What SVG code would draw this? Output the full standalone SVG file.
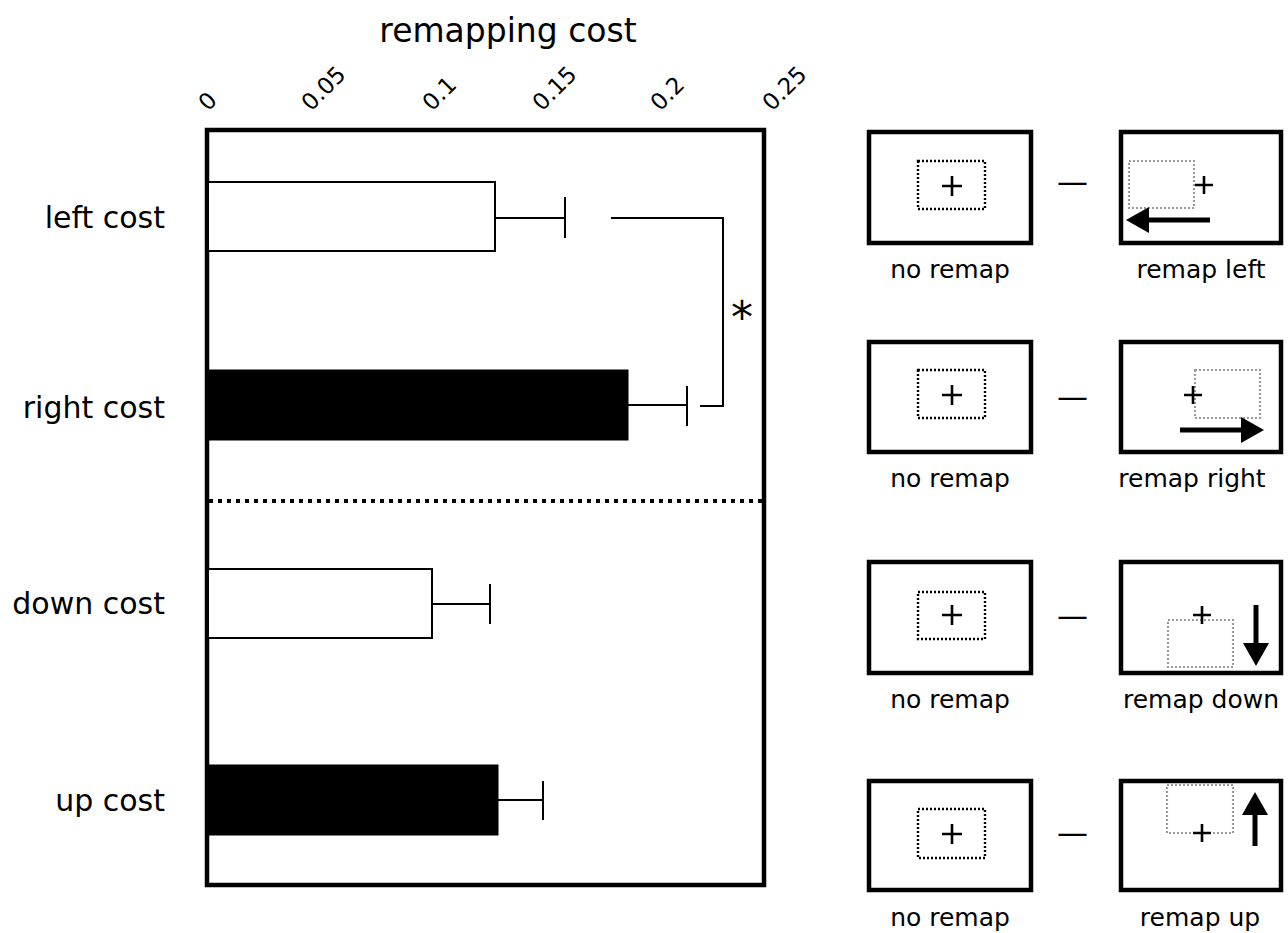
<svg xmlns="http://www.w3.org/2000/svg" width="1288" height="933" viewBox="0 0 1288 933">
<style>
text{font-family:"DejaVu Sans","Liberation Sans",sans-serif;fill:#000}
.title{font-size:33px;text-anchor:middle}
.tick{font-size:23px}
.cat{font-size:30px;text-anchor:end}
.lab{font-size:25px;text-anchor:middle}
.minus{font-size:31px}
.frame{fill:none;stroke:#000;stroke-width:4.5}
.wbar{fill:#fff;stroke:#000;stroke-width:2}
.bbar{fill:#000;stroke:#000;stroke-width:1}
.err{fill:none;stroke:#000;stroke-width:2}
.box{fill:#fff;stroke:#000;stroke-width:4.5}
.dk{fill:none;stroke:#000;stroke-width:2.4;stroke-dasharray:2 2}
.gr{fill:none;stroke:#9a9a9a;stroke-width:2.2;stroke-dasharray:2 2}
.plus{stroke:#000;stroke-width:2.6;fill:none}
.arr{stroke:#000;stroke-width:5;fill:none;marker-end:url(#head)}
</style>
<defs>
<marker id="head" markerUnits="userSpaceOnUse" viewBox="0 -13 23 26" refX="1" refY="0" markerWidth="23" markerHeight="26" orient="auto">
<path d="M0,-13 L23,0 L0,13 z" fill="#000"/>
</marker>
</defs>
<rect width="1288" height="933" fill="#fff"/>

<g id="chart">
<text class="title" x="508" y="42">remapping cost</text>
<g id="ticks">
<text class="tick" transform="translate(208,112) rotate(-45)">0</text>
<text class="tick" transform="translate(311,112) rotate(-45)">0.05</text>
<text class="tick" transform="translate(432,112) rotate(-45)">0.1</text>
<text class="tick" transform="translate(542,112) rotate(-45)">0.15</text>
<text class="tick" transform="translate(660,112) rotate(-45)">0.2</text>
<text class="tick" transform="translate(772,112) rotate(-45)">0.25</text>
</g>
<rect class="frame" x="207" y="130" width="557" height="755"/>
<line x1="209" y1="501" x2="762" y2="501" stroke="#000" stroke-width="4" stroke-dasharray="4 5"/>
</g>

<g id="bar-left">
<text class="cat" x="165" y="228">left cost</text>
<rect class="wbar" x="208" y="182" width="287" height="69"/>
<path class="err" d="M495,218 H565 M565,197 V238"/>
</g>
<g id="bar-right">
<text class="cat" x="165" y="418">right cost</text>
<rect class="bbar" x="208" y="370" width="420" height="70"/>
<path class="err" d="M628,405 H687 M687,386 V426"/>
</g>
<g id="bar-down">
<text class="cat" x="165" y="614">down cost</text>
<rect class="wbar" x="208" y="569" width="224" height="69"/>
<path class="err" d="M432,604 H490 M490,584 V624"/>
</g>
<g id="bar-up">
<text class="cat" x="165" y="811">up cost</text>
<rect class="bbar" x="208" y="765" width="290" height="70"/>
<path class="err" d="M498,800 H543 M543,781 V820"/>
</g>

<g id="connectors">
<path class="err" d="M611,218 H723 V406 H700"/>
<text x="742" y="333" font-size="44" text-anchor="middle">*</text>
</g>

<g id="row-left">
<rect class="box" x="869" y="132" width="162" height="111"/>
<rect class="dk" x="918" y="161" width="67" height="48"/>
<path class="plus" d="M942,186 H962 M952,176 V196"/>
<text class="lab" x="950" y="278">no remap</text>
<text class="minus" x="1057" y="192">—</text>
<rect class="box" x="1121" y="132" width="160" height="111"/>
<rect class="gr" x="1129" y="161" width="65" height="47"/>
<path class="plus" d="M1195,185 H1213 M1204,176 V194"/>
<path class="arr" d="M1210,220 H1148"/>
<text class="lab" x="1201" y="278">remap left</text>
</g>

<g id="row-right">
<rect class="box" x="869" y="342" width="162" height="110"/>
<rect class="dk" x="918" y="370" width="67" height="48"/>
<path class="plus" d="M942,395 H962 M952,385 V405"/>
<text class="lab" x="950" y="487">no remap</text>
<text class="minus" x="1057" y="407">—</text>
<rect class="box" x="1121" y="342" width="160" height="110"/>
<rect class="gr" x="1195" y="370" width="65" height="48"/>
<path class="plus" d="M1184,395 H1202 M1193,386 V404"/>
<path class="arr" d="M1180,430 H1242"/>
<text class="lab" x="1192" y="487">remap right</text>
</g>

<g id="row-down">
<rect class="box" x="869" y="562" width="162" height="111"/>
<rect class="dk" x="918" y="592" width="67" height="47"/>
<path class="plus" d="M942,615 H962 M952,605 V625"/>
<text class="lab" x="950" y="708">no remap</text>
<text class="minus" x="1057" y="626">—</text>
<rect class="box" x="1121" y="562" width="160" height="111"/>
<rect class="gr" x="1168" y="620" width="65" height="47"/>
<path class="plus" d="M1193,615 H1211 M1202,606 V624"/>
<path class="arr" d="M1256,605 V644"/>
<text class="lab" x="1201" y="708">remap down</text>
</g>

<g id="row-up">
<rect class="box" x="869" y="781" width="162" height="109"/>
<rect class="dk" x="918" y="809" width="67" height="49"/>
<path class="plus" d="M942,834 H962 M952,824 V844"/>
<text class="lab" x="950" y="926">no remap</text>
<text class="minus" x="1057" y="843">—</text>
<rect class="box" x="1121" y="781" width="160" height="109"/>
<rect class="gr" x="1167" y="785" width="66" height="48"/>
<path class="plus" d="M1193,833 H1211 M1202,824 V842"/>
<path class="arr" d="M1255,846 V814"/>
<text class="lab" x="1200" y="926">remap up</text>
</g>
</svg>
